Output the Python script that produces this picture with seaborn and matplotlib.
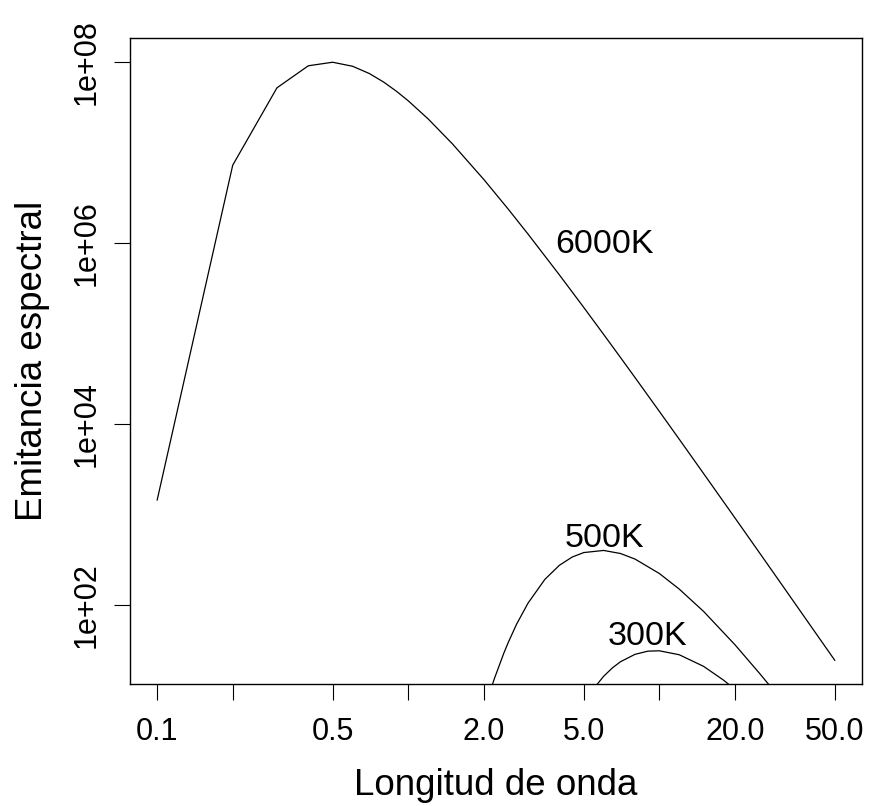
import numpy as np
import pandas as pd
import matplotlib
matplotlib.use("Agg")
import matplotlib.pyplot as plt
import seaborn as sns

# ---- data (wavelength in micrometres, emittance) ----
wl_6000 = [0.1, 0.2, 0.3, 0.4, 0.5, 0.6, 0.7, 0.8, 0.9, 1.0, 1.2, 1.5, 2.0, 2.5,
           3.0, 4.0, 5.0, 6.0, 7.0, 8.0, 10.0, 12.0, 15.0, 20.0, 25.0, 30.0, 40.0, 50.0]
em_6000 = [1.44e3, 7.26e6, 5.2e7, 9.12e7, 9.98e7, 9.01e7, 7.49e7, 6.0e7, 4.74e7, 3.74e7,
           2.36e7, 1.249e7, 5.05e6, 2.38e6, 1.258e6, 4.45e5, 1.946e5, 9.79e4, 5.45e4,
           3.267e4, 1.381e4, 6.80e3, 2.841e3, 918.0, 380.5, 185.0, 59.1, 24.4]

wl_500 = [2.0, 2.1, 2.2, 2.4, 2.5, 2.7, 3.0, 3.5, 4.0, 4.5, 5.0, 6.0, 7.0, 8.0,
          10.0, 12.0, 15.0, 20.0, 25.0, 30.0]
em_500 = [6.6, 10.25, 15.2, 29.15, 38.4, 61.3, 105.0, 192.0, 275.0, 339.4, 380.0, 401.0,
          371.0, 322.0, 223.0, 150.0, 85.0, 36.4, 17.7, 9.6]

wl_300 = [5.0, 5.5, 6.0, 6.5, 7.0, 8.0, 9.0, 10.0, 12.0, 15.0, 18.0, 20.0]
em_300 = [8.2, 12.1, 16.3, 20.17, 23.6, 28.5, 30.9, 31.2, 28.2, 21.0, 14.8, 11.7]

curve_names = ["6000K", "500K", "300K"]

x_ticks = [0.1, 0.2, 0.5, 1, 2, 5, 10, 20, 50]
x_ticklabels = ["0.1", "", "0.5", "", "2.0", "5.0", "", "20.0", "50.0"]
y_ticks = [1e2, 1e4, 1e6, 1e8]
y_ticklabels = ["1e+02", "1e+04", "1e+06", "1e+08"]

df = pd.concat([
    pd.DataFrame({"wl": wl_6000, "em": em_6000, "T": curve_names[0]}),
    pd.DataFrame({"wl": wl_500, "em": em_500, "T": curve_names[1]}),
    pd.DataFrame({"wl": wl_300, "em": em_300, "T": curve_names[2]}),
])

sns.set_style("ticks")
plt.rcParams["font.family"] = ["Liberation Sans", "DejaVu Sans"]
plt.rcParams["axes.edgecolor"] = "black"
plt.rcParams["axes.labelcolor"] = "black"
plt.rcParams["text.color"] = "black"
plt.rcParams["xtick.color"] = "black"
plt.rcParams["ytick.color"] = "black"
plt.rcParams["xtick.labelcolor"] = "black"
plt.rcParams["ytick.labelcolor"] = "black"

fig = plt.figure(figsize=(8.73, 8.06), dpi=100)
ax = fig.add_axes([130 / 873, 1 - 684 / 806, 732 / 873, 646 / 806])

for name in curve_names:
    sub = df[df["T"] == name]
    sns.lineplot(data=sub, x="wl", y="em", ax=ax, color="black", linewidth=0.9,
                 estimator=None, sort=False, legend=False)

ax.set_xscale("log")
ax.set_yscale("log")
ax.set_xlim(10 ** -1.108, 10 ** 1.807)
ax.set_ylim(10 ** 1.127, 10 ** 8.267)

ax.set_xticks(x_ticks)
ax.set_xticklabels(x_ticklabels)
ax.set_yticks(y_ticks)
ax.set_yticklabels(y_ticklabels)
ax.minorticks_off()

ax.tick_params(axis="both", direction="out", length=11.5, width=0.8, labelsize=22,
               colors="black")
ax.tick_params(axis="x", pad=12)
ax.tick_params(axis="y", pad=9, labelrotation=90)
for lab in ax.get_yticklabels():
    lab.set_va("center")

for s in ax.spines.values():
    s.set_linewidth(1.0)
    s.set_color("black")

ax.set_xlabel("Longitud de onda", fontsize=26.5, color="black")
ax.set_ylabel("Emitancia espectral", fontsize=26.5, color="black")
ax.xaxis.set_label_coords(0.5, (684 - 768) / 646)
ax.yaxis.set_label_coords((49.6 - 130) / 732, 0.5)

ax.text(6.03, 7.85e5, curve_names[0], fontsize=24.5, ha="center", va="baseline", color="black")
ax.text(6.03, 443, curve_names[1], fontsize=24.5, ha="center", va="baseline", color="black")
ax.text(8.98, 36.2, curve_names[2], fontsize=24.5, ha="center", va="baseline", color="black")

fig.savefig("out.png", dpi=100)
